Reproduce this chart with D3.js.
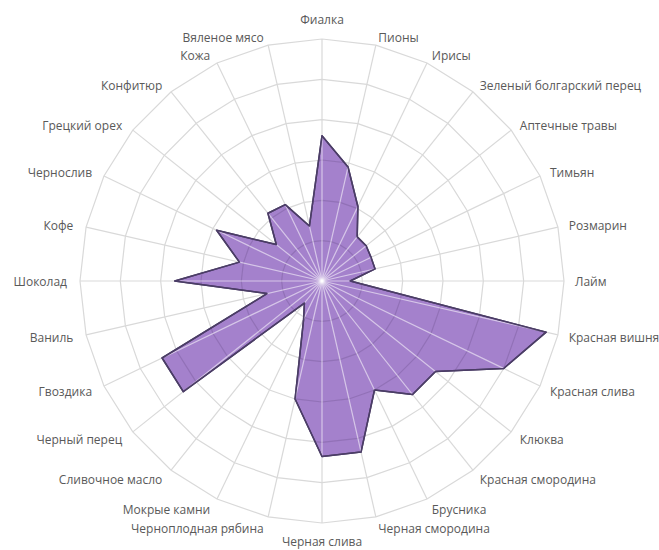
<!DOCTYPE html>
<html>
<head>
<meta charset="utf-8"/>
<script src="https://cdn.jsdelivr.net/npm/d3@7"></script>
<style>
html, body {
  margin: 0;
  background: #fff;
  font-family: "Open Sans", sans-serif;
}
.ring, .spoke {
  fill: none;
  stroke: #d9d9d9;
  stroke-width: 1.2;
}
.area {
  fill: #a481cc;
  stroke: #4b3d66;
  stroke-width: 1.5;
  stroke-linejoin: round;
}
.ring-in {
  fill: none;
  stroke: #6f5390;
  stroke-opacity: .35;
  stroke-width: 1.2;
}
.spoke-in {
  stroke: #fff;
  stroke-opacity: .55;
  stroke-width: 1.2;
}
.label {
  font-size: 12px;
  fill: #595959;
}
</style>
</head>
<body>

<svg id="chart" width="659" height="550"></svg>

<script>

// categories, clockwise from the top
var categories = [
  "Фиалка", "Пионы", "Ирисы", "Зеленый болгарский перец", "Аптечные травы",
  "Тимьян", "Розмарин", "Лайм", "Красная вишня", "Красная слива", "Клюква",
  "Красная смородина", "Брусника", "Черная смородина", "Черная слива",
  "Черноплодная рябина", "Мокрые камни", "Сливочное масло", "Черный перец",
  "Гвоздика", "Ваниль", "Шоколад", "Кофе", "Чернослив", "Грецкий орех",
  "Конфитюр", "Кожа", "Вяленое мясо"
];

var values = [
  3.6, 2.9, 2.05, 1.4, 1.4,
  1.35, 1.35, 0.7, 5.7, 5.0, 3.6,
  3.6, 3.0, 4.35, 4.35,
  3.0, 1.05, 0.7, 4.4,
  4.4, 1.4, 3.65, 2.1, 2.9, 1.45,
  2.15, 2.1, 1.4
];

var ringLevels = [1, 2, 3, 4, 5, 6];

//---------------------------------------
var cx = 322, cy = 281, R = 242;
var n = categories.length;

var r = d3.scaleLinear().domain([0, 6]).range([0, R]);
var angle = d3.scalePoint().domain(d3.range(n + 1)).range([0, 2 * Math.PI]);

function pt(i, v) {
  var a = angle(i % n);
  return [r(v) * Math.sin(a), -r(v) * Math.cos(a)];
}

var svg = d3.select("#chart");
var g = svg.append("g").attr("transform", "translate(" + cx + "," + cy + ")");

var line = d3.line().curve(d3.curveLinearClosed);

// grid
g.selectAll(".ring")
  .data(ringLevels)
  .enter().append("path")
  .attr("class", "ring")
  .attr("d", function(lv) {
    return line(d3.range(n).map(function(i) { return pt(i, lv); }));
  });

g.selectAll(".spoke")
  .data(d3.range(n))
  .enter().append("line")
  .attr("class", "spoke")
  .attr("x2", function(i) { return pt(i, 6)[0]; })
  .attr("y2", function(i) { return pt(i, 6)[1]; });

// series
var areaPts = values.map(function(v, i) { return pt(i, v); });

svg.append("defs").append("clipPath")
  .attr("id", "clip-area")
  .append("path")
  .attr("d", line(areaPts));

g.append("path")
  .attr("class", "area")
  .attr("d", line(areaPts));

var inner = g.append("g").attr("clip-path", "url(#clip-area)");

inner.selectAll(".ring-in")
  .data(ringLevels)
  .enter().append("path")
  .attr("class", "ring-in")
  .attr("d", function(lv) {
    return line(d3.range(n).map(function(i) { return pt(i, lv); }));
  });

inner.selectAll(".spoke-in")
  .data(d3.range(n))
  .enter().append("line")
  .attr("class", "spoke-in")
  .attr("x2", function(i) { return pt(i, 6)[0]; })
  .attr("y2", function(i) { return pt(i, 6)[1]; });

// outline again on top of the clipped grid
g.append("path")
  .attr("class", "area")
  .style("fill", "none")
  .attr("d", line(areaPts));

//---------------------------------------
// category labels
g.selectAll(".label")
  .data(categories)
  .enter().append("text")
  .attr("class", "label")
  .attr("dy", "0.35em")
  .each(function(d, i) {
    var a = angle(i), s = Math.sin(a), c = Math.cos(a);
    var p = pt(i, 6);
    var t = d3.select(this).text(d);
    if (Math.abs(s) < 0.01) {
      t.attr("text-anchor", "middle")
       .attr("x", p[0])
       .attr("y", p[1] - c * 19);
    } else {
      t.attr("text-anchor", s > 0 ? "start" : "end")
       .attr("x", p[0] + s * 11 - (s < 0 ? 2 : 0))
       .attr("y", p[1] - c * (c > 0 ? 9 : 11) + 1);
    }
  });

</script>
</body>
</html>
